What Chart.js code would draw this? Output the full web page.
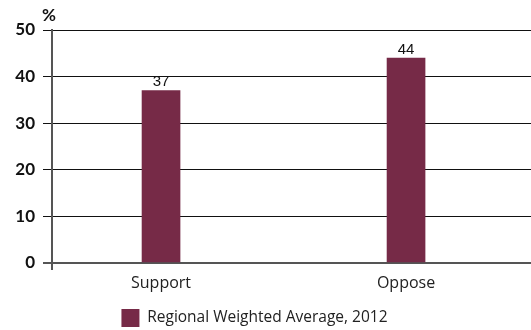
<!DOCTYPE html>
<html><head><meta charset="utf-8">
<script src="https://cdn.jsdelivr.net/npm/chart.js@4"></script>
<style>html,body{margin:0;padding:0;background:#fff}#wrap{width:531px;height:330px}</style>
</head><body><div id="wrap"><canvas id="c" width="531" height="330"></canvas></div>
<script>
const categories = ['Support', 'Oppose'];
const values = [37, 44];
const seriesName = 'Regional Weighted Average, 2012';
const yTicks = [0, 10, 20, 30, 40, 50];
const unitLabel = '%';

const barColor = '#762a47';

const extras = {
  id: 'extras',
  afterLayout(chart) {
    if (chart.legend) { chart.legend.left -= 11; chart.legend.right -= 11; }
  },
  afterDatasetsDraw(chart) {
    const ctx = chart.ctx;
    const meta = chart.getDatasetMeta(0);
    ctx.save();
    ctx.fillStyle = '#111';
    ctx.font = '15px "Liberation Sans", Arial, sans-serif';
    ctx.textAlign = 'center';
    ctx.textBaseline = 'bottom';
    meta.data.forEach((el, i) => {
      ctx.fillText(String(values[i]), el.x, el.y - 1);
    });
    const a = chart.chartArea;
    ctx.font = 'bold 17px Lato, sans-serif';
    ctx.textAlign = 'left';
    ctx.textBaseline = 'bottom';
    ctx.fillText(unitLabel, a.left - 10, a.top - 6);
    ctx.restore();
  }
};

new Chart(document.getElementById('c'), {
  type: 'bar',
  data: {
    datasets: [{
      label: seriesName,
      data: categories.map((c, i) => ({x: i, y: values[i]})),
      backgroundColor: barColor,
      barThickness: 38
    }]
  },
  options: {
    responsive: false,
    animation: false,
    layout: {padding: {top: 30, right: 0, left: 0, bottom: -7}},
    plugins: {
      legend: {
        position: 'bottom',
        labels: {
          boxWidth: 18, boxHeight: 18, padding: 3,
          color: '#222',
          font: {family: '"Open Sans", sans-serif', size: 15.5, lineHeight: 1.23}
        }
      },
      tooltip: {enabled: false}
    },
    scales: {
      x: {
        type: 'linear',
        offset: false,
        min: -0.445,
        max: 1.51,
        afterFit(s) { s.height = 43; },
        afterBuildTicks(s) {
          s.ticks = [{value: -0.445}, {value: 0}, {value: 1}];
        },
        ticks: {
          autoSkip: false,
          padding: 4,
          color: '#222',
          font: {family: '"Open Sans", sans-serif', size: 16},
          callback: (v) => Number.isInteger(v) ? categories[v] : ''
        },
        grid: {
          offset: false,
          drawOnChartArea: false,
          tickLength: 7,
          lineWidth: 2,
          color: (c) => c.index === 0 ? '#555' : 'rgba(0,0,0,0)'
        },
        border: {color: '#555', width: 2}
      },
      y: {
        min: 0, max: 50,
        afterFit(s) { s.width = 52; },
        afterBuildTicks(s) { s.ticks = yTicks.map(v => ({value: v})); },
        ticks: {
          padding: 8,
          color: '#111',
          font: {family: 'Lato, sans-serif', size: 17, weight: 'bold'}
        },
        grid: {
          tickLength: 9,
          color: (c) => c.tick && c.tick.value === 0 ? '#555' : '#111',
          lineWidth: (c) => c.tick && c.tick.value === 0 ? 2 : 1
        },
        border: {color: '#555', width: 2}
      }
    }
  },
  plugins: [extras]
});
</script>
</body></html>
